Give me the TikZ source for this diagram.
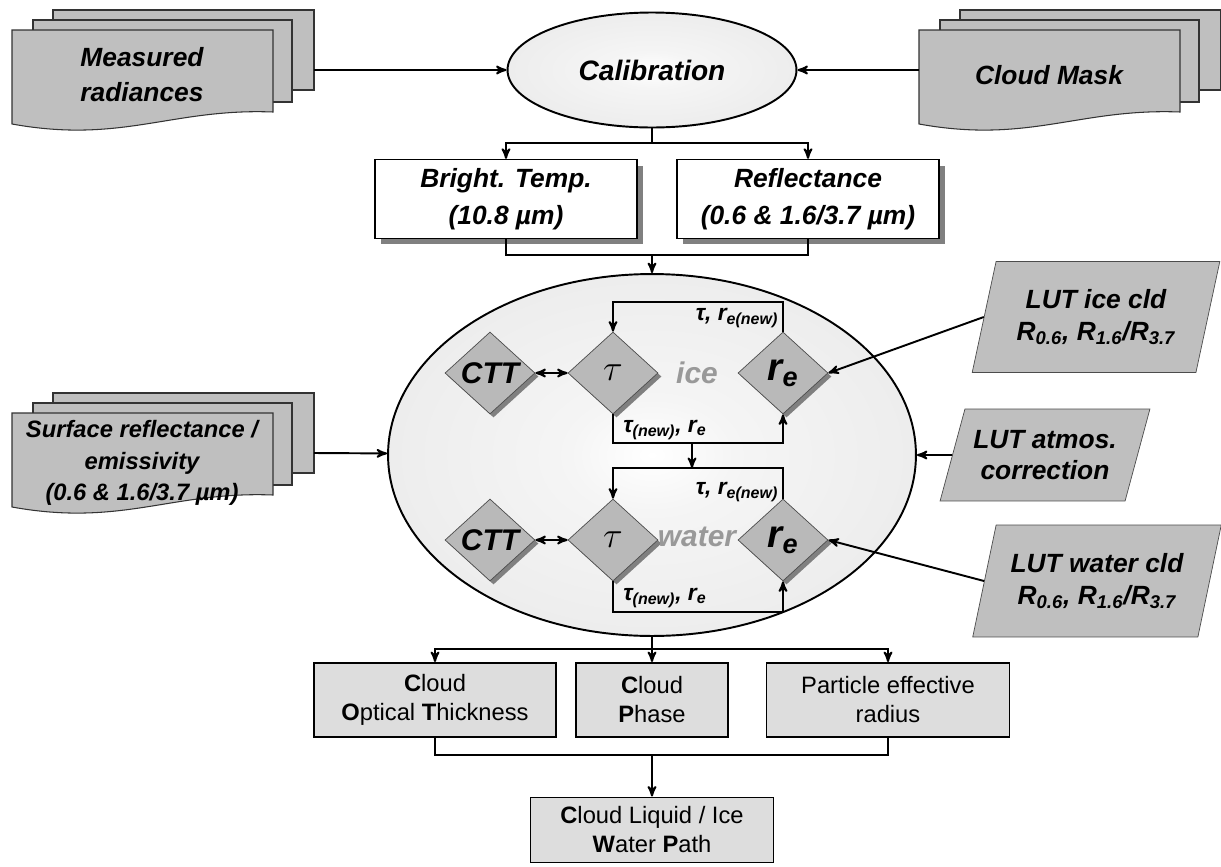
\documentclass[tikz,border=0pt]{standalone}
\usepackage{fontspec}
\setmainfont{Liberation Sans}
\usetikzlibrary{arrows,shapes,shadows}

\newcommand\bi[2]{\fontsize{#1}{#2}\selectfont\bfseries\itshape}
\newcommand\rg[2]{\fontsize{#1}{#2}\selectfont}

\pgfdeclareradialshading{softglow}{\pgfpoint{0bp}{0bp}}{%
  color(0bp)=(white); color(8bp)=(white!96!black); color(30bp)=(gray!16); color(50bp)=(gray!34)}

% stack of three pages: name, x, y, text
\newcommand\docstack[5][]{%
  \begin{scope}[shift={(#3,#4)}]
    \draw[docpage] (41,-20) rectangle (302,60);
    \draw[docpage] (21,-10) rectangle (280,72);
    \draw[docpage] (0,0) -- (261,0) -- (261,82) .. controls (160,78) and (110,114) .. (0,94) -- cycle;
    \node[doctext,#1] (#2) at (130,45) {#5};
    \coordinate (#2-e) at (302,40);
    \coordinate (#2-w) at (0,40);
  \end{scope}}

\tikzset{
  docpage/.style={draw=black!80,line width=0.6pt,fill=gray!50},
  doctext/.style={align=center,font=\bi{15}{20}},
  calib/.style={ellipse,draw,line width=1.1pt,shading=softglow,inner sep=0pt},
  tempbox/.style={rectangle,draw,line width=0.8pt,fill=white,align=center,font=\bi{15}{21},
    minimum width=5.24cm,minimum height=1.58cm,
    drop shadow={shadow xshift=0.12cm,shadow yshift=-0.12cm,fill=gray,opacity=1}},
  decision/.style={diamond,draw=gray!60!black,fill=gray!55,minimum width=1.8cm,minimum height=1.64cm,inner sep=0pt,
    drop shadow={shadow xshift=0.07cm,shadow yshift=-0.07cm,fill=gray,opacity=1}},
  loopnote/.style={font=\bi{13}{15}},
  phase/.style={text=gray!80,font=\bi{17}{20}},
  lut/.style={trapezium,trapezium left angle=#1,trapezium right angle=180-#1,trapezium stretches=true,
    draw=gray!60!black,fill=gray!50,align=center,font=\bi{15}{18},inner sep=0pt},
  product/.style={rectangle,draw,line width=1.1pt,fill=gray!27,align=center,font=\rg{13.5}{16.5},minimum height=1.48cm},
  conn/.style={line width=1.1pt,>=stealth'}
}

\begin{document}
\begin{tikzpicture}[x=0.02cm,y=-0.02cm]
  \useasboundingbox (0,0) rectangle (1221,866);

  % inputs
  \docstack{meas}{12}{30}{Measured\\radiances}
  \docstack{mask}{919}{30}{Cloud Mask}
  \docstack[font=\bi{13.5}{18},yshift=-0.1cm]{surf}{12}{413}{Surface reflectance /\\emissivity\\(0.6 \& 1.6/3.7 \textmu m)}

  \node[calib,minimum width=5.78cm,minimum height=2.3cm,font=\bi{16}{19}] (cal) at (652,70) {Calibration};
  \node[tempbox] (bt) at (506,199) {Bright. Temp.\\(10.8 \textmu m)};
  \node[tempbox] (refl) at (808,199) {Reflectance\\(0.6 \& 1.6/3.7 \textmu m)};

  % retrieval
  \node[calib,minimum width=10.56cm,minimum height=7.24cm] (ret) at (652,455) {};
  \node[decision,font=\bi{17}{20}] (ctti) at (490,373) {CTT};
  \node[decision,font=\rg{20}{22}] (taui) at (613,373) {$\tau$};
  \node[decision,font=\bi{22}{24}] (rei) at (783,373) {r\textsubscript{e}};
  \node[phase] (ice) at (697,373) {ice};
  \node[decision,font=\bi{17}{20}] (cttw) at (490,540) {CTT};
  \node[decision,font=\rg{20}{22}] (tauw) at (613,540) {$\tau$};
  \node[decision,font=\bi{22}{24}] (rew) at (783,540) {r\textsubscript{e}};
  \node[phase] (water) at (697,537) {water};
  \node[loopnote] (noteit) at (737,318) {τ, r\textsubscript{e(new)}};
  \node[loopnote] (noteib) at (665,430) {τ\textsubscript{(new)}, r\textsubscript{e}};
  \node[loopnote] (notewt) at (737,492) {τ, r\textsubscript{e(new)}};
  \node[loopnote] (notewb) at (665,598) {τ\textsubscript{(new)}, r\textsubscript{e}};

  \node[lut=71,minimum width=4.96cm,minimum height=2.22cm] (lutice) at (1096,317) {LUT ice cld\\R\textsubscript{0.6}, R\textsubscript{1.6}/R\textsubscript{3.7}};
  \node[lut=66,minimum width=4.2cm,minimum height=1.84cm] (lutatm) at (1045,455) {LUT atmos.\\correction};
  \node[lut=70,minimum width=4.98cm,minimum height=2.24cm] (lutwat) at (1097,581) {LUT water cld\\R\textsubscript{0.6}, R\textsubscript{1.6}/R\textsubscript{3.7}};

  % outputs
  \node[product,minimum width=4.84cm] (cot) at (435,700) {\textbf{C}loud\\\textbf{O}ptical \textbf{T}hickness};
  \node[product,minimum width=3.04cm] (cp) at (652,700) {\textbf{C}loud\\\textbf{P}hase};
  \node[product,minimum width=4.86cm] (per) at (888,700) {Particle effective\\radius};
  \node[product,minimum width=4.86cm,minimum height=1.3cm] (clwp) at (652,830) {\textbf{C}loud Liquid / Ice\\\textbf{W}ater \textbf{P}ath};

  \coordinate (split1) at (652,143);
  \coordinate (merge1) at (652,255);
  \coordinate (icetop) at (700,302);
  \coordinate (icebot) at (692,443);
  \coordinate (wattop) at (692,468);
  \coordinate (watbot) at (692,612);
  \coordinate (split2) at (652,649);
  \coordinate (merge2) at (652,755);

  \begin{scope}[conn]
    \draw[->] (meas-e) -- (cal);
    \draw[->] (mask-w) -- (cal);
    \draw (cal) -- (split1);
    \draw[->] (split1) -| (bt);
    \draw[->] (split1) -| (refl);
    \draw (bt) |- (merge1) -| (refl);
    \draw[->] (merge1) -- (ret);
    \draw[->] (surf-e) -- (ret);
    \draw[->] (lutatm) -- (ret);
    \draw[->] (lutice.west) -- (rei.east);
    \draw[->] (lutwat.west) -- (rew.east);
    \draw[<->] (ctti) -- (taui);
    \draw[<->] (cttw) -- (tauw);
    \draw[->] (rei) |- (icetop) -| (taui);
    \draw[->] (taui) |- (icebot) -| (rei);
    \draw[->] (icebot) -- (wattop);
    \draw[->] (rew) |- (wattop) -| (tauw);
    \draw[->] (tauw) |- (watbot) -| (rew);
    \draw (ret) -- (split2);
    \draw[->] (split2) -| (cot);
    \draw[->] (split2) -- (cp);
    \draw[->] (split2) -| (per);
    \draw (cot) |- (merge2) -| (per);
    \draw[->] (merge2) -- (clwp);
  \end{scope}
\end{tikzpicture}
\end{document}
